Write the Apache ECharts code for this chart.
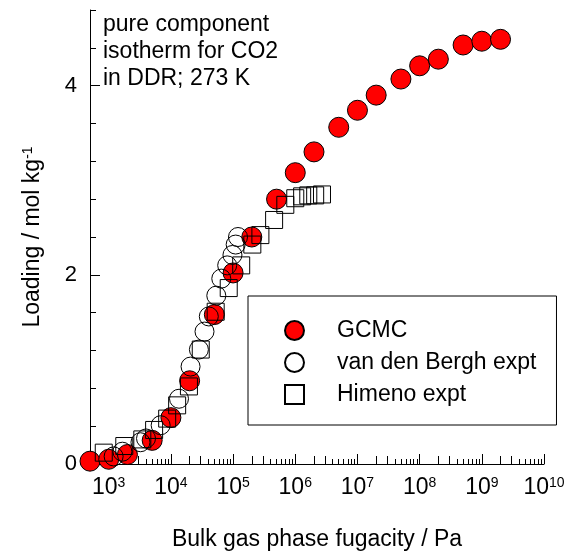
<!DOCTYPE html>
<html>
<head>
<meta charset="utf-8">
<script src="https://cdn.jsdelivr.net/npm/echarts@6/dist/echarts.min.js"></script>
<style>
  html, body { margin: 0; padding: 0; background: #fff; }
  #chart { width: 568px; height: 555px; }
</style>
</head>
<body>
<div id="chart"></div>
<script>
// CO2 在 DDR 中的纯组分等温线, 273 K
var chart = echarts.init(document.getElementById('chart'));

// fugacity / Pa , loading / mol kg-1
let gcmcF = [500, 1e3, 2e3, 5e3, 1e4, 2e4, 5e4, 1e5, 2e5, 5e5, 1e6, 2e6, 5e6, 1e7, 2e7, 5e7, 1e8, 2e8, 5e8, 1e9, 2e9];
let gcmcQ = [0.03, 0.05, 0.10, 0.25, 0.49, 0.88, 1.58, 2.02, 2.40, 2.80, 3.08, 3.30, 3.56, 3.74, 3.90, 4.07, 4.21, 4.28, 4.43, 4.47, 4.49];

let bergF = [1200, 1660, 3240, 3980, 6840, 13500, 20700, 28200, 34700, 40700, 53700, 64600, 80400, 97700, 110000, 120000];
let bergQ = [0.08, 0.13, 0.23, 0.27, 0.41, 0.69, 1.03, 1.21, 1.40, 1.56, 1.78, 1.96, 2.10, 2.21, 2.32, 2.40];

let himF = [832, 1780, 3470, 5370, 8710, 12600, 19500, 30200, 52500, 85100, 135000, 204000, 275000, 457000, 692000, 1.0e6, 1.29e6, 1.62e6, 2.09e6, 2.69e6];
let himQ = [0.12, 0.19, 0.26, 0.36, 0.48, 0.62, 0.82, 1.21, 1.61, 1.86, 2.10, 2.32, 2.42, 2.58, 2.74, 2.81, 2.83, 2.84, 2.84, 2.85];

let decades = [3, 4, 5, 6, 7, 8, 9, 10];
let fMin = 500, fMax = 1e10;
let yTicksLabeled = [0, 2, 4];

const FONT = "'Liberation Sans', Arial, sans-serif";

function pairs(f, q) {
    return f.map(function (v, i) { return [Math.log10(v), q[i]]; });
}

// 对数轴的次刻度
let minorA = [], minorB = [];
for (let e = 2; e <= 9; e++) {
    for (let k = 2; k <= 9; k++) {
        let v = Math.log10(k * Math.pow(10, e));
        if (v <= Math.log10(fMin) + 1e-9 || v >= Math.log10(fMax)) continue;
        if (k <= 3) minorA.push(v); else minorB.push(v);
    }
}

let xMin = Math.log10(fMin), xMax = Math.log10(fMax);

function xAxisBase(extra) {
    return Object.assign({
        type: 'value',
        min: xMin,
        max: xMax,
        gridIndex: 0,
        position: 'bottom',
        offset: 0,
        splitLine: { show: false },
        axisLine: { show: false },
        axisLabel: { show: false },
        axisTick: { show: false }
    }, extra);
}

var option = {
    animation: false,
    backgroundColor: '#fff',
    textStyle: { fontFamily: FONT, color: '#000' },
    grid: { left: 90, right: 24, top: 10, bottom: 91, containLabel: false, outerBoundsMode: 'none' },
    title: {
        text: 'pure component\nisotherm for CO2\nin DDR; 273 K',
        left: 103,
        top: 11,
        padding: 0,
        textStyle: { fontFamily: FONT, fontSize: 23, fontWeight: 'normal', color: '#000', lineHeight: 27 }
    },
    legend: {
        orient: 'vertical',
        left: 248,
        top: 296,
        padding: [23, 20, 19, 36],
        itemGap: 9,
        itemWidth: 19,
        itemHeight: 19,
        borderColor: '#000',
        borderWidth: 1,
        textStyle: { fontFamily: FONT, fontSize: 23, color: '#000', lineHeight: 20, padding: [0, 0, 0, 28] },
        data: [
            { name: 'GCMC', icon: 'circle' },
            { name: 'van den Bergh expt', icon: 'circle' },
            { name: 'Himeno expt', icon: 'rect' }
        ]
    },
    xAxis: [
        xAxisBase({
            name: 'Bulk gas phase fugacity / Pa',
            nameLocation: 'middle',
            nameGap: 64,
            nameTextStyle: { fontFamily: FONT, fontSize: 23, color: '#000' },
            axisLine: { show: true, lineStyle: { color: '#000', width: 1 } },
            axisTick: { show: true, inside: true, length: 10, customValues: decades, lineStyle: { color: '#000' } },
            axisLabel: {
                show: true,
                customValues: decades,
                margin: 12,
                formatter: function (v) { return '{b|10}{s|' + Math.round(v) + '}'; },
                rich: {
                    b: { fontFamily: FONT, fontSize: 23, color: '#000' },
                    s: { fontFamily: FONT, fontSize: 14, color: '#000', verticalAlign: 'top' }
                }
            }
        }),
        xAxisBase({
            axisTick: { show: true, inside: true, length: 8, customValues: minorA, lineStyle: { color: '#000' } }
        }),
        xAxisBase({
            axisTick: { show: true, inside: true, length: 5, customValues: minorB, lineStyle: { color: '#000' } }
        })
    ],
    yAxis: [
        {
            type: 'value',
            min: 0,
            max: 4.8,
            interval: 0.4,
            position: 'left',
            splitLine: { show: false },
            name: '{a|Loading / mol kg}{s|-1}',
            nameLocation: 'middle',
            nameRotate: 90,
            nameGap: 46,
            nameTextStyle: {
                rich: {
                    a: { fontFamily: FONT, fontSize: 23, color: '#000' },
                    s: { fontFamily: FONT, fontSize: 14, color: '#000', verticalAlign: 'top' }
                }
            },
            axisLine: { show: true, lineStyle: { color: '#000', width: 1 } },
            axisTick: { show: true, inside: true, length: 6, lineStyle: { color: '#000' } },
            axisLabel: {
                show: true,
                margin: 13,
                fontFamily: FONT,
                fontSize: 22,
                color: '#000',
                formatter: function (v) {
                    return yTicksLabeled.some(function (t) { return Math.abs(t - v) < 1e-6; }) ? String(v) : '';
                }
            }
        },
        {
            type: 'value',
            min: 0,
            max: 4.8,
            position: 'left',
            offset: 0,
            splitLine: { show: false },
            axisLine: { show: false },
            axisLabel: { show: false },
            axisTick: { show: true, inside: true, length: 10, customValues: yTicksLabeled, lineStyle: { color: '#000' } }
        }
    ],
    series: [
        {
            name: 'GCMC',
            type: 'scatter',
            symbol: 'circle',
            symbolSize: 20,
            data: pairs(gcmcF, gcmcQ),
            itemStyle: { color: '#ff0000', borderColor: '#000', borderWidth: 1, opacity: 1 }
        },
        {
            name: 'van den Bergh expt',
            type: 'scatter',
            symbol: 'circle',
            symbolSize: 19,
            data: pairs(bergF, bergQ),
            itemStyle: { color: 'rgba(255,255,255,0)', borderColor: '#000', borderWidth: 1, opacity: 1 }
        },
        {
            name: 'Himeno expt',
            type: 'scatter',
            symbol: 'rect',
            symbolSize: 17,
            data: pairs(himF, himQ),
            itemStyle: { color: 'rgba(255,255,255,0)', borderColor: '#000', borderWidth: 1, opacity: 1 }
        }
    ]
};
chart.setOption(option);
window.onresize = chart.resize;
</script>
</body>
</html>
